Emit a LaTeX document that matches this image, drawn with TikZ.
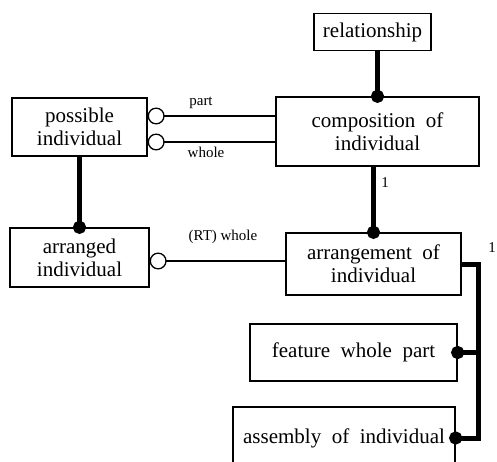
\documentclass[tikz,border=0pt]{standalone}
\usepackage{fontspec}
\setmainfont{Liberation Serif}
\usetikzlibrary{arrows.meta}
\newcommand{\boxfont}{\fontsize{21}{23}\selectfont\spaceskip=0.5em\relax}

\begin{document}
\begin{tikzpicture}[x=1pt,y=-1pt]
	\tikzstyle{entity}=[draw,line width=1.3pt,inner sep=0pt,align=center,font=\boxfont]
	\tikzstyle{role}=[inner sep=0pt,font=\fontsize{15}{17}\selectfont]
	\tikzstyle{heavy}=[line width=5pt,-{Circle[length=13pt]},shorten >=-6.5pt]
	\tikzstyle{light}=[line width=1.3pt,{Circle[open,length=17pt]}-]

	\useasboundingbox (0,0) rectangle (497,462);

	\node[entity,minimum width=117pt,minimum height=37pt] (relationship) at (372.5,32) {relationship};
	\node[entity,minimum width=203pt,minimum height=69pt] (composition) at (377.5,131.5) {composition of\\individual};
	\node[entity,minimum width=135pt,minimum height=58pt] (possible) at (79.5,127) {possible\\individual};
	\node[entity,minimum width=139pt,minimum height=59pt] (arranged) at (79.5,257.5) {arranged\\individual};
	\node[entity,minimum width=175pt,minimum height=62pt] (arrangement) at (373.5,264) {arrangement of\\individual};
	\node[entity,minimum width=207pt,minimum height=57pt] (feature) at (353.5,352.5) {feature whole part};
	\node[entity,minimum width=222pt,minimum height=62pt] (assembly) at (344,438) {assembly of individual};

	\draw[heavy] (composition.north |- relationship.south) -- (composition.north);
	\draw[heavy] (composition.south -| arrangement.north) -- (arrangement.north);
	\draw[heavy] (possible.south) -- (arranged.north);

	\draw[light] ([yshift=11pt]possible.east) -- ([yshift=11pt]possible.east -| composition.west);
	\draw[light] ([yshift=-15pt]possible.east) -- ([yshift=-15pt]possible.east -| composition.west);
	\draw[light] ([yshift=-3.5pt]arranged.east) -- ([yshift=-3.5pt]arranged.east -| arrangement.west);

	\coordinate (bus) at ([xshift=17pt]arrangement.east);
	\draw[heavy] (arrangement.east) -- (bus) |- (assembly.east);
	\draw[heavy] (bus |- feature.east) -- (feature.east);

	\node[role] (part) at (201,103) {part};
	\node[role] (whole) at (206,152) {whole};
	\node[role] (rtwhole) at (223,237) {(RT) whole};
	\node[role] (one) at (385,183) {1};
	\node[role] (onebus) at (492,248) {1};
\end{tikzpicture}
\end{document}
